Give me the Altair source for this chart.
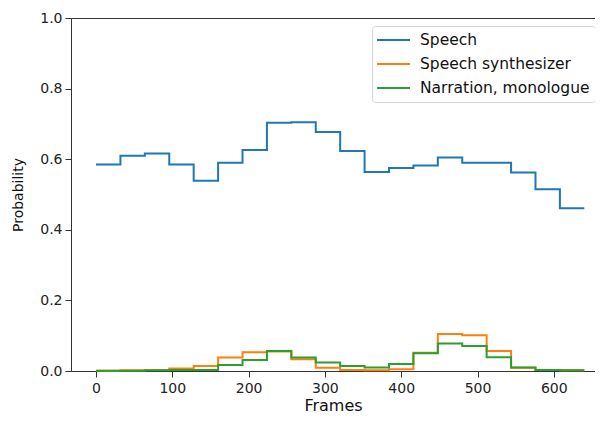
import altair as alt
import pandas as pd

frames = [i * 32 for i in range(21)]
series_names = ["Speech", "Speech synthesizer", "Narration, monologue"]
colors = ["#1f77b4", "#ff7f0e", "#2ca02c"]

speech = [0.585, 0.610, 0.616, 0.585, 0.539, 0.590, 0.626, 0.703, 0.705, 0.677,
          0.623, 0.564, 0.575, 0.582, 0.605, 0.590, 0.590, 0.562, 0.515, 0.461]
synth = [0.001, 0.002, 0.003, 0.007, 0.014, 0.038, 0.053, 0.055, 0.033, 0.009,
         0.003, 0.002, 0.005, 0.052, 0.105, 0.101, 0.057, 0.009, 0.003, 0.002]
narration = [0.001, 0.001, 0.002, 0.003, 0.003, 0.017, 0.031, 0.057, 0.038, 0.024,
             0.014, 0.010, 0.020, 0.050, 0.078, 0.071, 0.039, 0.010, 0.003, 0.002]

rows = []
for name, vals in zip(series_names, [speech, synth, narration]):
    ext = vals + [vals[-1]]
    for f, v in zip(frames, ext):
        rows.append({"Frames": f, "Probability": v, "series": name})
df = pd.DataFrame(rows)

FONT = "DejaVu Sans"

legend = alt.Legend(
    orient="none", legendX=301, legendY=8, title=None,
    symbolType="stroke", symbolSize=1225, symbolStrokeWidth=2, symbolOffset=-3,
    labelFontSize=15.5, labelFont=FONT, labelColor="#111", labelLimit=400,
    strokeColor="#d5d5d5", fillColor="white", padding=5, cornerRadius=3,
    labelOffset=9, clipHeight=18, rowPadding=6,
)
color = alt.Color("series:N", scale=alt.Scale(domain=series_names, range=colors), legend=legend)
yenc = alt.Y("Probability:Q", scale=alt.Scale(domain=[0, 1], nice=False),
             axis=alt.Axis(values=[0, 0.2, 0.4, 0.6, 0.8, 1.0], format=".1f", grid=False,
                           title="Probability", titleFontWeight="normal", titleFontSize=14,
                           titleFont=FONT, labelFont=FONT, labelFontSize=14, labelColor="#222",
                           titleColor="#111", tickSize=6, tickColor="#333", domainColor="#333",
                           labelPadding=3, titlePadding=14))
xscale = alt.Scale(domain=[-32.8, 654], nice=False, zero=False)

bottom_axis = alt.Axis(values=[0, 100, 200, 300, 400, 500, 600], format="d", grid=False,
                       title="Frames", titleFontWeight="normal", titleFontSize=16,
                       titleFont=FONT, labelFont=FONT, labelFontSize=14, labelColor="#222",
                       titleColor="#111", tickSize=6, tickColor="#333", domainColor="#333",
                       labelPadding=4, titlePadding=2)
top_axis = alt.Axis(orient="top", labels=False, ticks=False, grid=False, title=None,
                    domainColor="#333")

base = alt.Chart(df)
layers = []
for i, name in enumerate(series_names):
    if i == 0:
        ax = bottom_axis
    elif i == 1:
        ax = top_axis
    else:
        ax = None
    xenc = alt.X("Frames:Q", scale=xscale, axis=ax)
    layers.append(
        base.transform_filter(alt.datum.series == name)
        .mark_line(interpolate="step-after", strokeWidth=2)
        .encode(x=xenc, y=yenc, color=color)
    )

chart = alt.layer(*layers).resolve_axis(x="independent").properties(
    width=524, height=353,
    padding={"left": 63, "top": 10, "right": 0, "bottom": 43},
    autosize=alt.AutoSizeParams(type="none"),
).configure_view(stroke=None).configure(background="white")

chart.save("out.html", embed_options={"renderer": "svg", "actions": False})
